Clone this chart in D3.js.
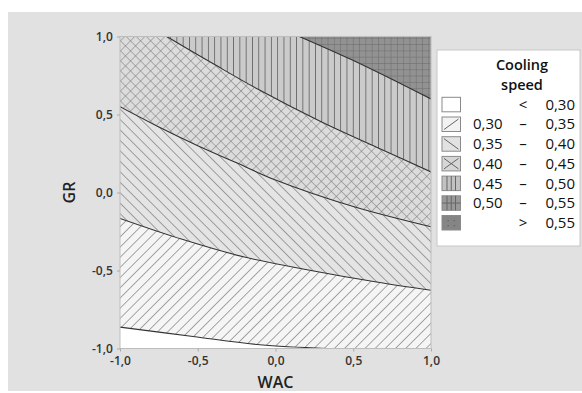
<!DOCTYPE html>
<html>
<head>
<meta charset="utf-8">
<script src="https://cdn.jsdelivr.net/npm/d3@7"></script>
<style>
  body { margin: 0; background: #fff; }
  svg { display: block; font-family: "Open Sans", sans-serif; }
</style>
</head>
<body>
<div id="chart"></div>
<script>
// contour boundaries (WAC, GR)
const wac30 = [-1, -0.53, -0.10, 0.33];
const gr30 = [-0.863, -0.923, -0.976, -1.0];
const wac35 = [-1, -0.6, -0.2, 0.22, 0.65, 1];
const gr35 = [-0.166, -0.300, -0.414, -0.498, -0.574, -0.627];
const wac40 = [-1, -0.75, -0.5, -0.25, 0, 0.5, 1];
const gr40 = [0.55, 0.42, 0.30, 0.19, 0.08, -0.09, -0.22];
const wac45 = [-0.70, -0.4, -0.1, 0.3, 0.65, 1];
const gr45 = [1.0, 0.825, 0.655, 0.45, 0.29, 0.132];
const wac50 = [0.153, 0.48, 0.80, 1];
const gr50 = [1.0, 0.855, 0.70, 0.60];

const xTicks = [-1, -0.5, 0, 0.5, 1];
const yTicks = [-1, -0.5, 0, 0.5, 1];
const legendLow = ["", "0,30", "0,35", "0,40", "0,45", "0,50", ""];
const legendSep = ["<", "–", "–", "–", "–", "–", ">"];
const legendHigh = ["0,30", "0,35", "0,40", "0,45", "0,50", "0,55", "0,55"];

const W = 582, H = 393;
const svg = d3.select("#chart").append("svg").attr("width", W).attr("height", H);

svg.append("rect").attr("x", 8).attr("y", 12).attr("width", W - 8).attr("height", 379)
  .attr("fill", "#e1e1e1");

const x = d3.scaleLinear().domain([-1, 1]).range([120, 431]);
const y = d3.scaleLinear().domain([-1, 1]).range([348.5, 36.5]);

// hatch patterns
const defs = svg.append("defs");
function hatch(id, bg, angle, step, color, width, cross) {
  const p = defs.append("pattern").attr("id", id)
    .attr("patternUnits", "userSpaceOnUse")
    .attr("width", step).attr("height", step)
    .attr("patternTransform", `rotate(${angle})`);
  p.append("rect").attr("width", step).attr("height", step).attr("fill", bg);
  p.append("line").attr("x1", 0).attr("y1", 0).attr("x2", 0).attr("y2", step)
    .attr("stroke", color).attr("stroke-width", width);
  if (cross) {
    p.append("line").attr("x1", 0).attr("y1", 0).attr("x2", step).attr("y2", 0)
      .attr("stroke", color).attr("stroke-width", width);
  }
}
hatch("p1", "#f5f5f5", 45, 7.2, "#555", 1, false);
hatch("p2", "#e4e4e4", -45, 7.4, "#555", 1, false);
hatch("p3", "#dcdcdc", 45, 7.1, "#777", 1, true);
hatch("p4", "#cbcbcb", 0, 6.3, "#5e5e5e", 1.6, false);
hatch("p5", "#929292", 0, 6.3, "#6a6a6a", 1, true);

defs.append("clipPath").attr("id", "plotClip").append("rect")
  .attr("x", x(-1)).attr("y", y(1)).attr("width", x(1) - x(-1)).attr("height", y(-1) - y(1));

const plot = svg.append("g").attr("clip-path", "url(#plotClip)");
plot.append("rect").attr("x", x(-1)).attr("y", y(1))
  .attr("width", x(1) - x(-1)).attr("height", y(-1) - y(1)).attr("fill", "#fff");

const boundaries = [[wac30, gr30], [wac35, gr35], [wac40, gr40], [wac45, gr45], [wac50, gr50]];
const line = d3.line().x(d => x(d[0])).y(d => y(d[1])).curve(d3.curveCatmullRom.alpha(0.5));

boundaries.forEach(([ws, gs], i) => {
  const pts = ws.map((w, j) => [w, gs[j]]);
  let path = line(pts);
  if (gs[gs.length - 1] === -1) path += `L${x(1)},${y(-1)}`;
  path += `L${x(1)},${y(1)}`;
  if (ws[0] === -1) path += `L${x(-1)},${y(1)}`;
  path += "Z";
  plot.append("path").attr("d", path).attr("fill", `url(#p${i + 1})`);
});
boundaries.forEach(([ws, gs]) => {
  plot.append("path").attr("d", line(ws.map((w, j) => [w, gs[j]])))
    .attr("fill", "none").attr("stroke", "#333").attr("stroke-width", 1.1);
});

svg.append("rect").attr("x", x(-1)).attr("y", y(1))
  .attr("width", x(1) - x(-1)).attr("height", y(-1) - y(1))
  .attr("fill", "none").attr("stroke", "#bdbdbd");

const fmt = v => v.toFixed(1).replace(".", ",");
const xAxis = svg.append("g").attr("transform", `translate(0,${y(-1)})`)
  .call(d3.axisBottom(x).tickValues(xTicks).tickFormat(fmt).tickSize(3).tickSizeOuter(0));
const yAxis = svg.append("g").attr("transform", `translate(${x(-1)},0)`)
  .call(d3.axisLeft(y).tickValues(yTicks).tickFormat(fmt).tickSize(3).tickSizeOuter(0));
[xAxis, yAxis].forEach(a => {
  a.select(".domain").remove();
  a.selectAll(".tick line").attr("stroke", "#aaa");
  a.selectAll("text").attr("fill", "#333").attr("font-size", 12).attr("font-weight", 600)
    .attr("font-family", "Open Sans");
});
xAxis.selectAll("text").attr("dy", "0.9em");
yAxis.selectAll("text").attr("dx", "-0.1em");

svg.append("text").attr("x", (x(-1) + x(1)) / 2).attr("y", 388).attr("text-anchor", "middle")
  .attr("font-size", 16).attr("font-weight", 600).attr("fill", "#222").text("WAC");
svg.append("text").attr("transform", `translate(75,${y(0)}) rotate(-90)`).attr("text-anchor", "middle")
  .attr("font-size", 16).attr("font-weight", 600).attr("fill", "#222").text("GR");

// legend
const lg = svg.append("g");
lg.append("rect").attr("x", 437).attr("y", 50).attr("width", 143).attr("height", 196)
  .attr("fill", "#fff").attr("stroke", "#c8c8c8");
lg.append("text").attr("x", 522).attr("y", 70).attr("text-anchor", "middle")
  .attr("font-size", 14.5).attr("font-weight", 600).attr("fill", "#111").text("Cooling");
lg.append("text").attr("x", 522).attr("y", 90).attr("text-anchor", "middle")
  .attr("font-size", 14.5).attr("font-weight", 600).attr("fill", "#111").text("speed");

const swFill = ["#fff", "#f2f2f2", "#e2e2e2", "#d6d6d6", "#c2c2c2", "#999", "#858585"];
legendHigh.forEach((hi, i) => {
  const cy = 104.5 + i * 19.7;
  const sx = 442, sy = cy - 7.2, sw = 18.5, sh = 14.5;
  const g = lg.append("g");
  g.append("rect").attr("x", sx).attr("y", sy).attr("width", sw).attr("height", sh)
    .attr("fill", swFill[i]).attr("stroke", "#8a8a8a");
  const ln = (x1, y1, x2, y2, c) => g.append("line").attr("x1", x1).attr("y1", y1)
    .attr("x2", x2).attr("y2", y2).attr("stroke", c || "#666").attr("stroke-width", 1);
  if (i === 1 || i === 3) ln(sx + 2, sy + sh - 2, sx + sw - 2, sy + 2);
  if (i === 2 || i === 3) ln(sx + 2, sy + 2, sx + sw - 2, sy + sh - 2);
  if (i === 4 || i === 5) [0.27, 0.5, 0.73].forEach(f => ln(sx + sw * f, sy, sx + sw * f, sy + sh, "#666"));
  if (i === 5) ln(sx, sy + sh / 2, sx + sw, sy + sh / 2, "#666");
  if (i === 6) [[0.33, 0.35], [0.66, 0.35], [0.33, 0.7], [0.66, 0.7]].forEach(([fx, fy]) =>
    g.append("circle").attr("cx", sx + sw * fx).attr("cy", sy + sh * fy).attr("r", 0.6).attr("fill", "#555"));
  const ty = cy + 5.2;
  if (legendLow[i]) lg.append("text").attr("x", 473).attr("y", ty).attr("font-size", 15)
    .attr("fill", "#111").text(legendLow[i]);
  lg.append("text").attr("x", 523).attr("y", ty).attr("text-anchor", "middle").attr("font-size", 15)
    .attr("fill", "#111").text(legendSep[i]);
  lg.append("text").attr("x", 575).attr("y", ty).attr("text-anchor", "end").attr("font-size", 15)
    .attr("fill", "#111").text(hi);
});
</script>
</body>
</html>
